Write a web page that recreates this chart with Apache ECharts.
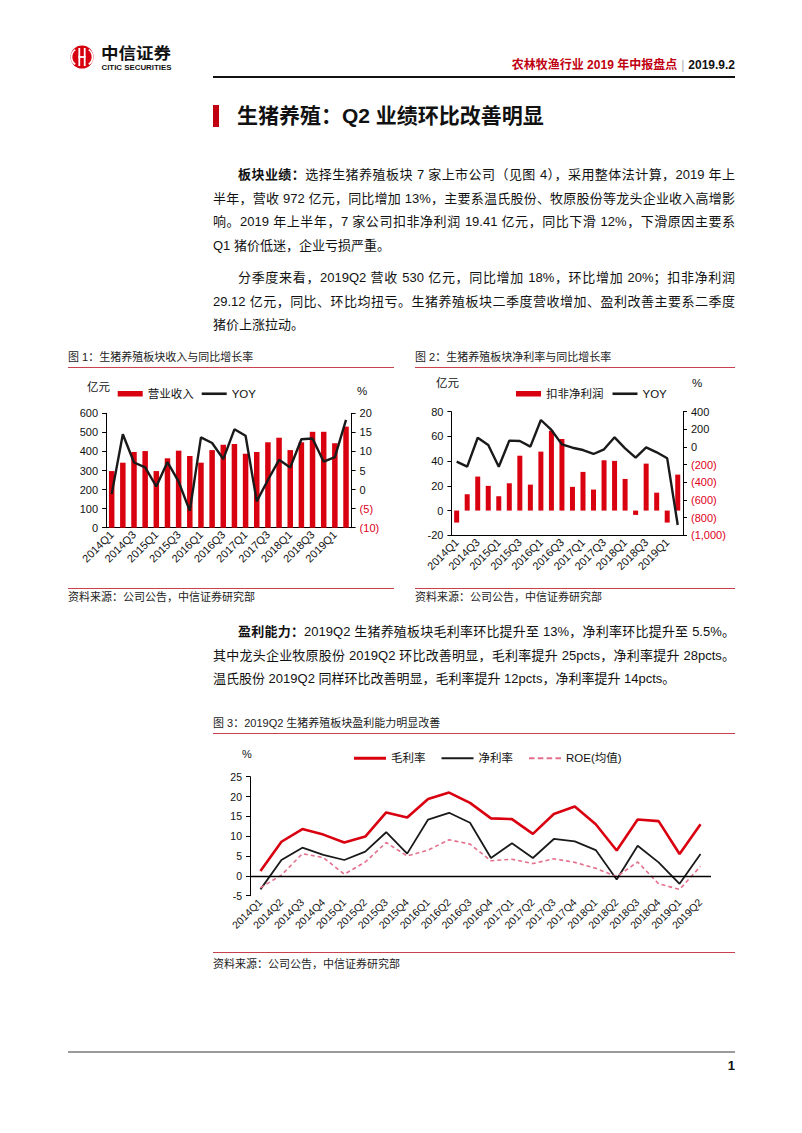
<!DOCTYPE html>
<html><head><meta charset="utf-8">
<script src="https://cdn.jsdelivr.net/npm/echarts/dist/echarts.min.js"></script>
<style>
html,body{margin:0;padding:0;background:#fff;}
body{width:802px;height:1133px;position:relative;overflow:hidden;font-family:"Liberation Sans",Arial,"Noto Sans CJK SC",sans-serif;color:#111;}
.abs{position:absolute;}
.para{position:absolute;left:213px;width:522px;font-size:13px;line-height:23.5px;}
.para div{text-align:justify;text-align-last:justify;}
.para div.last{text-align-last:left;}
.para .ind{padding-left:25px;}
.cap{position:absolute;font-size:11px;color:#222;line-height:14px;}
.rline{position:absolute;height:1px;background:#c8414c;}
.chart{position:absolute;}
</style></head>
<body>
<!-- logo -->
<svg class="abs" style="left:66px;top:40px" width="120" height="36" viewBox="0 0 120 36">
  <circle cx="16" cy="17" r="11.5" fill="#d7000f"/>
  <path d="M9.2 9.6 A9.2 9.2 0 0 0 9.2 24.4" stroke="#fff" stroke-width="1.8" fill="none"/>
  <path d="M22.8 9.6 A9.2 9.2 0 0 1 22.8 24.4" stroke="#fff" stroke-width="1.8" fill="none"/>
  <rect x="12.4" y="8" width="1.8" height="18" fill="#fff"/>
  <rect x="17.8" y="8" width="1.8" height="18" fill="#fff"/>
  <rect x="12.4" y="16.1" width="7.2" height="1.8" fill="#fff"/>
  <text x="35" y="18.5" font-family="Noto Sans CJK SC" font-weight="bold" font-size="16" fill="#111" textLength="70" lengthAdjust="spacingAndGlyphs">中信证券</text>
  <text x="35.5" y="30" font-family="Liberation Sans" font-weight="bold" font-size="6.8" fill="#111" textLength="70" lengthAdjust="spacingAndGlyphs">CITIC SECURITIES</text>
</svg>
<!-- header -->
<div class="abs" style="right:67px;top:57px;font-size:12px;font-weight:bold;line-height:16px;white-space:nowrap;">
  <span style="color:#c00010">农林牧渔行业 2019 年中报盘点</span><span style="color:#aaa;font-weight:normal;margin:0 4px">|</span><span style="color:#111">2019.9.2</span>
</div>
<div class="abs" style="left:213px;top:76px;width:522px;height:2px;background:#111"></div>
<!-- title -->
<div class="abs" style="left:213px;top:105px;width:6px;height:22px;background:#c00010"></div>
<div class="abs" style="left:237px;top:102px;font-size:21px;font-weight:bold;line-height:28px;white-space:nowrap;color:#111">生猪养殖：Q2 业绩环比改善明显</div>

<!-- paragraphs -->
<div class="para" style="top:163px">
  <div class="ind"><b>板块业绩：</b>选择生猪养殖板块 7 家上市公司（见图 4），采用整体法计算，2019 年上</div>
  <div>半年，营收 972 亿元，同比增加 13%，主要系温氏股份、牧原股份等龙头企业收入高增影</div>
  <div>响。2019 年上半年，7 家公司扣非净利润 19.41 亿元，同比下滑 12%，下滑原因主要系</div>
  <div class="last">Q1 猪价低迷，企业亏损严重。</div>
</div>
<div class="para" style="top:266px">
  <div class="ind">分季度来看，2019Q2 营收 530 亿元，同比增加 18%，环比增加 20%；扣非净利润</div>
  <div>29.12 亿元，同比、环比均扭亏。生猪养殖板块二季度营收增加、盈利改善主要系二季度</div>
  <div class="last">猪价上涨拉动。</div>
</div>

<!-- chart 1 & 2 captions -->
<div class="cap" style="left:68px;top:350px">图 1：生猪养殖板块收入与同比增长率</div>
<div class="rline" style="left:68px;top:367px;width:326px"></div>
<div class="cap" style="left:415px;top:350px">图 2：生猪养殖板块净利率与同比增长率</div>
<div class="rline" style="left:415px;top:367px;width:320px"></div>

<div id="c1" class="chart" style="left:60px;top:370px;width:345px;height:216px"></div>
<div id="c2" class="chart" style="left:405px;top:370px;width:340px;height:216px"></div>

<div class="rline" style="left:68px;top:588px;width:326px"></div>
<div class="cap" style="left:68px;top:590px">资料来源：公司公告，中信证券研究部</div>
<div class="rline" style="left:415px;top:588px;width:320px"></div>
<div class="cap" style="left:415px;top:590px">资料来源：公司公告，中信证券研究部</div>

<div class="para" style="top:620px">
  <div class="ind"><b>盈利能力：</b>2019Q2 生猪养殖板块毛利率环比提升至 13%，净利率环比提升至 5.5%。</div>
  <div>其中龙头企业牧原股份 2019Q2 环比改善明显，毛利率提升 25pcts，净利率提升 28pcts。</div>
  <div class="last">温氏股份 2019Q2 同样环比改善明显，毛利率提升 12pcts，净利率提升 14pcts。</div>
</div>

<div class="cap" style="left:213px;top:716px">图 3：2019Q2 生猪养殖板块盈利能力明显改善</div>
<div class="rline" style="left:213px;top:733px;width:522px"></div>
<div id="c3" class="chart" style="left:200px;top:735px;width:540px;height:214px"></div>
<div class="rline" style="left:213px;top:952px;width:522px"></div>
<div class="cap" style="left:213px;top:957px">资料来源：公司公告，中信证券研究部</div>

<!-- footer -->
<div class="abs" style="left:68px;top:1051px;width:667px;height:1.5px;background:#9a9a9a"></div>
<div class="abs" style="right:67px;top:1058px;font-size:13px;font-weight:bold;line-height:16px">1</div>

<script>
// ---------- data ----------
const quarters = ['2014Q1','2014Q2','2014Q3','2014Q4','2015Q1','2015Q2','2015Q3','2015Q4','2016Q1','2016Q2','2016Q3','2016Q4','2017Q1','2017Q2','2017Q3','2017Q4','2018Q1','2018Q2','2018Q3','2018Q4','2019Q1','2019Q2'];
// Fig 1: revenue (亿元) and YoY (%)
const revenue = [297,341,397,402,297,364,404,376,341,407,435,439,388,397,448,472,407,448,503,503,443,530];
const revenueYoy = [-1.2,14.5,7.1,5.8,0.8,7.2,2.1,-5.6,13.7,12.2,8.0,15.8,14.1,-3.1,2.5,7.8,5.8,13.2,13.4,7.3,8.5,18.3];
// Fig 2: deducted net profit (亿元) and YoY (%)
const netProfit = [-9.7,13.2,27.5,20.0,11.6,22.1,44.4,21.0,47.7,64.6,57.9,19.2,31.3,17.0,40.7,40.2,25.6,-3.5,38.0,14.5,-9.7,29.1];
const netProfitYoy = [-166,-223,105,23,-223,72,68,4,306,193,30,-8,-34,-79,-26,110,-15,-121,-4,-60,-128,-883];
// Fig 3: margins (%)
const grossMargin = [1.2,8.6,11.8,10.4,8.4,9.9,16.0,14.7,19.4,21.0,18.4,14.5,14.3,10.6,15.6,17.5,13.0,6.4,14.2,13.8,5.5,13.0];
const netMargin = [-3.4,4.0,7.1,5.3,4.0,6.1,11.0,5.6,14.2,15.9,13.4,4.5,8.2,4.5,9.3,8.7,6.5,-0.9,7.6,3.4,-2.0,5.5];
const roe = [-3.0,0.2,5.6,4.6,0.4,3.5,8.4,5.0,6.5,9.1,8.0,3.8,4.2,3.1,4.3,3.4,1.9,-0.2,3.5,-2.0,-3.4,2.4];
// axis ticks
const revTicks = {min:0, max:600, interval:100};
const revYoyTicks = {min:-10, max:20, interval:5};
const npTicks = {min:-20, max:80, interval:20};
const npYoyTicks = {min:-1000, max:400, interval:200};
const marginTicks = {min:-5, max:25, interval:5};

// ---------- styles ----------
const FONT = '"Liberation Sans", Arial, "Noto Sans CJK SC", sans-serif';
const RED = '#d9000f';
const NEG = '#e0001b';
const BLACK = '#1a1a1a';
const linePath = 'path://M0,0H25V2.6H0Z';
const dashPath = 'path://M0,0h5v2h-5zM8,0h5v2h-5zM16,0h5v2h-5zM24,0h5v2h-5z';

function negFmt(v){
  if (v < 0) return '{r|(' + Math.abs(v).toLocaleString('en-US') + ')}';
  return String(v);
}
function yAxisBase(t, pos, fmt, fs){
  fs = fs || 11;
  return Object.assign({
    type:'value', position:pos,
    axisLine:{show:true, lineStyle:{color:'#000', width:1}},
    axisTick:{show:true, length:4, lineStyle:{color:'#000'}},
    splitLine:{show:false},
    axisLabel:{fontSize:fs, color:'#111', fontFamily:FONT, margin:8, formatter:fmt,
      rich:{r:{color:NEG, fontSize:fs, fontFamily:FONT}}}
  }, t);
}
function xAxisBase(interval, showLine, fs){
  return {
    type:'category', data:quarters,
    axisLine:{show:showLine, onZero:false, lineStyle:{color:'#000', width:1}},
    axisTick:{show:false},
    axisLabel:{interval:interval, rotate:45, fontSize:fs, color:'#111', fontFamily:FONT, margin:5}
  };
}

// ---------- chart 1 ----------
const c1 = echarts.init(document.getElementById('c1'), null, {renderer:'svg'});
c1.setOption({
  animation:false,
  textStyle:{fontFamily:FONT},
  grid:{left:46.1, right:53.4, top:43.3, height:114.4},
  legend:{left:52.7, top:13, itemWidth:25, itemHeight:5.5, itemGap:8,
    textStyle:{fontSize:11.5, color:'#111', fontFamily:FONT},
    data:[{name:'营业收入', icon:'rect'}, {name:'YOY', icon:linePath}]},
  graphic:[
    {type:'text', left:27, top:11, style:{text:'亿元', fontSize:11.5, fill:'#111', fontFamily:FONT}},
    {type:'text', left:297, top:15, style:{text:'%', fontSize:11.5, fill:'#111', fontFamily:FONT}}
  ],
  xAxis:xAxisBase(1, true, 11),
  yAxis:[yAxisBase(revTicks,'left'), yAxisBase(revYoyTicks,'right', negFmt)],
  series:[
    {name:'营业收入', type:'bar', data:revenue, barWidth:5.5, itemStyle:{color:RED}},
    {name:'YOY', type:'line', yAxisIndex:1, data:revenueYoy, symbol:'none', lineStyle:{color:BLACK, width:2.4}, itemStyle:{color:BLACK}}
  ]
});

// ---------- chart 2 ----------
const c2 = echarts.init(document.getElementById('c2'), null, {renderer:'svg'});
c2.setOption({
  animation:false,
  textStyle:{fontFamily:FONT},
  grid:{left:46.4, right:62, top:41.7, height:123.6},
  legend:{left:106, top:13, itemWidth:25, itemHeight:5.5, itemGap:9,
    textStyle:{fontSize:11.5, color:'#111', fontFamily:FONT},
    data:[{name:'扣非净利润', icon:'rect'}, {name:'YOY', icon:linePath}]},
  graphic:[
    {type:'text', left:31, top:7, style:{text:'亿元', fontSize:11.5, fill:'#111', fontFamily:FONT}},
    {type:'text', left:287, top:7, style:{text:'%', fontSize:11.5, fill:'#111', fontFamily:FONT}}
  ],
  xAxis:xAxisBase(1, true, 11),
  yAxis:[yAxisBase(npTicks,'left'), yAxisBase(npYoyTicks,'right', negFmt)],
  series:[
    {name:'扣非净利润', type:'bar', data:netProfit, barWidth:5, itemStyle:{color:RED}},
    {name:'YOY', type:'line', yAxisIndex:1, data:netProfitYoy, symbol:'none', lineStyle:{color:BLACK, width:2.4}, itemStyle:{color:BLACK}}
  ]
});

// ---------- chart 3 ----------
const c3 = echarts.init(document.getElementById('c3'), null, {renderer:'svg'});
c3.setOption({
  animation:false,
  textStyle:{fontFamily:FONT},
  grid:{left:50, right:29, top:41.7, height:119},
  legend:{left:149, top:12.5, itemWidth:32, itemHeight:6, itemGap:16,
    textStyle:{fontSize:11.5, color:'#111', fontFamily:FONT},
    data:[{name:'毛利率', icon:'path://M0,0H32V3H0Z'}, {name:'净利率', icon:'path://M0,0H32V2H0Z'}, {name:'ROE(均值)', icon:dashPath}]},
  graphic:[
    {type:'text', left:42, top:13, style:{text:'%', fontSize:11, fill:'#111', fontFamily:FONT}}
  ],
  xAxis:xAxisBase(0, false, 10.5),
  yAxis:yAxisBase(marginTicks,'left', null, 10.5),
  series:[
    {name:'毛利率', type:'line', data:grossMargin, symbol:'none', lineStyle:{color:RED, width:2.6}, itemStyle:{color:RED},
      markLine:{silent:true, symbol:'none', label:{show:false}, lineStyle:{color:'#000', width:1.3, type:'solid'}, data:[{yAxis:0}]}},
    {name:'净利率', type:'line', data:netMargin, symbol:'none', lineStyle:{color:BLACK, width:1.8}, itemStyle:{color:BLACK}},
    {name:'ROE(均值)', type:'line', data:roe, symbol:'none', lineStyle:{color:'#e3708c', width:1.6, type:[4,3]}, itemStyle:{color:'#e3708c'}}
  ]
});
</script>
</body></html>
